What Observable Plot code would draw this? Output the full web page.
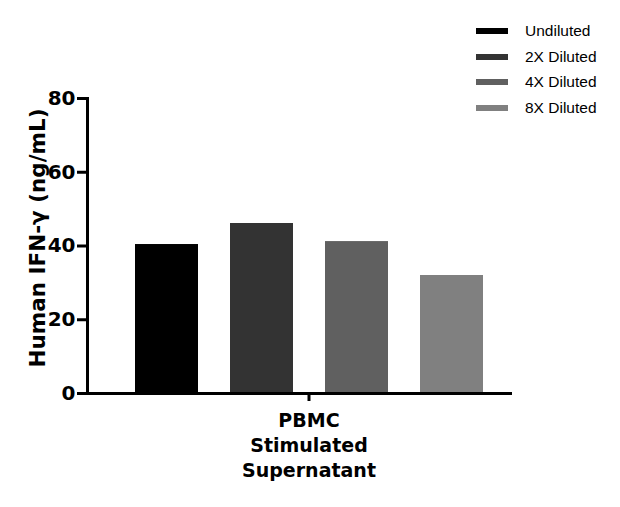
<!DOCTYPE html>
<html>
<head>
<meta charset="utf-8">
<script src="https://cdn.jsdelivr.net/npm/d3@7"></script>
<script src="https://cdn.jsdelivr.net/npm/@observablehq/plot@0.6"></script>
<style>
  html, body { margin: 0; padding: 0; background: #fff; }
  #wrap { position: relative; width: 620px; height: 507px; }
  #legend { position: absolute; left: 476px; top: 18px; font-family: "Liberation Sans", Arial, sans-serif; font-size: 15.5px; color: #000; }
  #legend .row { display: flex; align-items: center; height: 25.7px; }
  #legend .sw { width: 32px; height: 6px; margin-right: 17px; }
</style>
</head>
<body>
<div id="wrap"><div id="legend"></div></div>
<script>
const category = "PBMC\nStimulated\nSupernatant";
const series = ["Undiluted", "2X Diluted", "4X Diluted", "8X Diluted"];
const values = [40.4, 46.1, 41.2, 32.0];
const colors = ["#000000", "#333333", "#606060", "#808080"];
const yTicks = [0, 20, 40, 60, 80];
const yLabel = "Human IFN-γ (ng/mL)";

const data = series.map((s, i) => ({series: s, value: values[i], category}));

const font = "'DejaVu Sans', Verdana, sans-serif";

// category tick + label drawn from the x scale
function categoryAxis(index, scales, values, dims) {
  const x = scales.x;
  const bw = x.bandwidth ? x.bandwidth() : 0;
  const cx = (x(series[0]) + x(series[series.length - 1]) + bw) / 2;
  const y0 = dims.height - dims.marginBottom;
  const g = d3.create("svg:g");
  g.append("line").attr("x1", cx).attr("x2", cx).attr("y1", y0).attr("y2", y0 + 8)
    .attr("stroke", "#000").attr("stroke-width", 3);
  const t = g.append("text").attr("text-anchor", "middle")
    .attr("font-family", font).attr("font-weight", "bold").attr("font-size", 19).attr("fill", "#000");
  category.split("\n").forEach((line, i) => {
    t.append("tspan").attr("x", cx).attr("y", y0 + 34 + i * 25).text(line);
  });
  return g.node();
}

const chart = Plot.plot({
  width: 620,
  height: 507,
  marginLeft: 87,
  marginRight: 110,
  marginTop: 98,
  marginBottom: 114,
  style: {fontFamily: font, background: "#fff"},
  x: {domain: series, range: [118, 499.2], paddingInner: 0.336, paddingOuter: 0.168, axis: null},
  y: {domain: [0, 80], range: [393, 98]},
  color: {domain: series, range: colors},
  marks: [
    Plot.barY(data, {x: "series", y: "value", fill: "series"}),
    Plot.axisY({
      ticks: yTicks, tickSize: 10, tickPadding: 2, strokeWidth: 3,
      fontSize: 20, fontWeight: "bold", label: null, tickFormat: d => d
    }),
    Plot.frame({anchor: "left", strokeWidth: 3}),
    Plot.frame({anchor: "bottom", strokeWidth: 3}),
    Plot.text([yLabel], {
      frameAnchor: "left", rotate: -90, dx: -49, dy: -8, text: d => d,
      fontSize: 21.5, fontWeight: "bold", textAnchor: "middle"
    }),
    categoryAxis
  ]
});

const wrap = document.getElementById("wrap");
wrap.insertBefore(chart, wrap.firstChild);

const legend = document.getElementById("legend");
series.forEach((s, i) => {
  const row = document.createElement("div");
  row.className = "row";
  row.innerHTML = `<div class="sw" style="background:${colors[i]}"></div><span>${s}</span>`;
  legend.appendChild(row);
});
</script>
</body>
</html>
